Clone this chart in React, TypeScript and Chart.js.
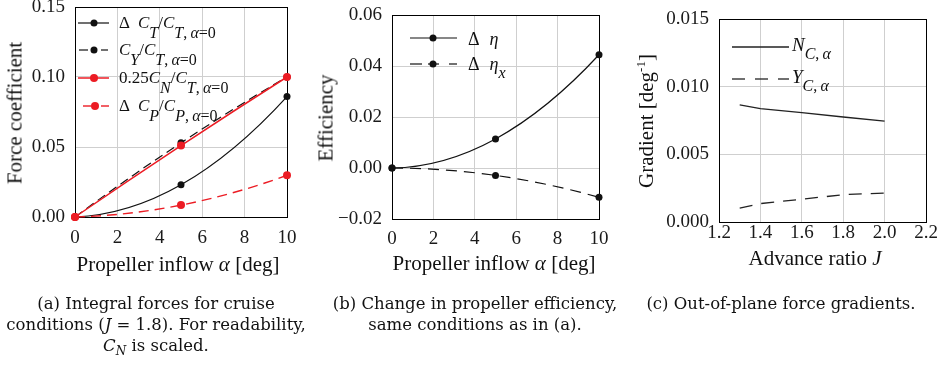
import React, { useEffect, useRef } from "react";
import { Chart, registerables } from "chart.js";

Chart.register(...registerables);

// ---------------- data ----------------
const inflowAlpha = [0, 5, 10];
const deltaCT = [0, 0.023, 0.086];
const cYratio = [0, 0.053, 0.1];
const cNscaled = [0, 0.051, 0.1];
const deltaCP = [0, 0.0085, 0.0298];

const deltaEta = [0, 0.0114, 0.0444];
const deltaEtaX = [0, -0.0029, -0.0115];

const advanceRatio = [1.3, 1.4, 1.6, 1.8, 2.0];
const nCalpha = [0.00865, 0.00838, 0.00808, 0.00776, 0.00746];
const yCalpha = [0.00103, 0.00136, 0.00168, 0.00202, 0.00214];

const xTicksAlpha = [0, 2, 4, 6, 8, 10];
const yTicksA = [0, 0.05, 0.1, 0.15];
const yTicksB = [-0.02, 0, 0.02, 0.04, 0.06];
const xTicksJ = [1.2, 1.4, 1.6, 1.8, 2.0, 2.2];
const yTicksC = [0, 0.005, 0.01, 0.015];

// ---------------- styling ----------------
const RED = "#ec1c24";
const BLACK = "#111111";
const GRID = "#cfcfcf";
const SERIF = "'Liberation Serif', 'Times New Roman', serif";
const CAPTION_FONT = "'DejaVu Serif', serif";

const pts = (xs: number[], ys: number[]) => xs.map((x, i) => ({ x, y: ys[i] }));

const framePlugin = {
  id: "frame",
  beforeDatasetsDraw(chart: any) {
    const { ctx, chartArea } = chart;
    const l = Math.round(chartArea.left) + 0.5;
    const t = Math.round(chartArea.top) + 0.5;
    const w = Math.round(chartArea.right) - Math.round(chartArea.left);
    const h = Math.round(chartArea.bottom) - Math.round(chartArea.top);
    ctx.save();
    ctx.strokeStyle = "#000";
    ctx.lineWidth = 1;
    ctx.strokeRect(l, t, w, h);
    ctx.restore();
  },
};

// smooth quadratic curve through three data points (exact parabola as cubic Bezier segments)
const quadFitPlugin = {
  id: "quadFit",
  beforeDatasetDraw(chart: any, args: any) {
    const ds = chart.data.datasets[args.index];
    if (!ds || !ds.quadFit) return;
    const meta = args.meta;
    const line = meta.dataset;
    const p = meta.data;
    if (!line || !p || p.length !== 3) return;
    const [a, b, c] = p;
    const f01 = (b.y - a.y) / (b.x - a.x);
    const f12 = (c.y - b.y) / (c.x - b.x);
    const f012 = (f12 - f01) / (c.x - a.x);
    const d = (x: number) => f01 + f012 * (2 * x - a.x - b.x);
    const seg = (P: any, Q: any) => {
      const h = (Q.x - P.x) / 3;
      P.cp2x = P.x + h;
      P.cp2y = P.y + d(P.x) * h;
      Q.cp1x = Q.x - h;
      Q.cp1y = Q.y - d(Q.x) * h;
    };
    seg(a, b);
    seg(b, c);
    a.cp1x = a.x;
    a.cp1y = a.y;
    c.cp2x = c.x;
    c.cp2y = c.y;
    line._pointsUpdated = true;
    line._path = undefined;
  },
};

type PanelProps = {
  left: number;
  width: number;
  height: number;
  yWidth: number;
  xHeight: number;
  padTop: number;
  padRight: number;
  datasets: any[];
  xMin: number;
  xMax: number;
  xTicks: number[];
  xDec: number;
  yMin: number;
  yMax: number;
  yTicks: number[];
  yDec: number;
  xPad: number;
  yPad: number;
};

function fmt(v: number, dec: number) {
  const s = Math.abs(v).toFixed(dec);
  return v < -1e-12 ? "\u2212" + s : s;
}

function Panel(p: PanelProps) {
  const ref = useRef<HTMLCanvasElement>(null);
  useEffect(() => {
    const chart = new Chart(ref.current as HTMLCanvasElement, {
      type: "line",
      data: { datasets: p.datasets },
      options: {
        animation: false,
        responsive: false,
        maintainAspectRatio: false,
        layout: { padding: { top: p.padTop, right: p.padRight, left: 0, bottom: 0 } },
        plugins: { legend: { display: false }, tooltip: { enabled: false } },
        elements: { point: { hoverRadius: 0 } },
        scales: {
          x: {
            type: "linear",
            min: p.xMin,
            max: p.xMax,
            afterBuildTicks: (s: any) => {
              s.ticks = p.xTicks.map((v) => ({ value: v }));
            },
            afterFit: (s: any) => {
              s.height = p.xHeight;
              s.paddingLeft = 0;
              s.paddingRight = 0;
            },
            ticks: {
              autoSkip: false,
              maxRotation: 0,
              padding: p.xPad,
              color: "#1a1a1a",
              font: { family: SERIF, size: 19 },
              callback: (v: any) => fmt(Number(v), p.xDec),
            },
            grid: { color: GRID, lineWidth: 1, drawTicks: false },
            border: { display: false },
          },
          y: {
            type: "linear",
            min: p.yMin,
            max: p.yMax,
            afterBuildTicks: (s: any) => {
              s.ticks = p.yTicks.map((v) => ({ value: v }));
            },
            afterFit: (s: any) => {
              s.width = p.yWidth;
              s.paddingTop = 0;
              s.paddingBottom = 0;
            },
            ticks: {
              autoSkip: false,
              padding: p.yPad,
              color: "#1a1a1a",
              font: { family: SERIF, size: 19 },
              callback: (v: any) => fmt(Number(v), p.yDec),
            },
            grid: { color: GRID, lineWidth: 1, drawTicks: false },
            border: { display: false },
          },
        },
      } as any,
      plugins: [framePlugin, quadFitPlugin],
    });
    return () => chart.destroy();
  }, []);
  return (
    <canvas
      ref={ref}
      width={p.width}
      height={p.height}
      style={{ position: "absolute", left: p.left, top: 0, width: p.width, height: p.height }}
    />
  );
}

const lineDs = (data: any[], color: string, width: number, dash: number[], marker: number, quad: boolean) => ({
  data,
  borderColor: color,
  backgroundColor: color,
  borderWidth: width,
  borderDash: dash,
  pointRadius: marker,
  pointBorderWidth: 0,
  pointBackgroundColor: color,
  tension: quad ? 0.4 : 0,
  quadFit: quad,
  fill: false,
  clip: false,
});

// datasets (first in list is drawn on top)
const datasetsA = [
  lineDs(pts(inflowAlpha, deltaCP), RED, 1.4, [10, 6], 4, true),
  lineDs(pts(inflowAlpha, cNscaled), RED, 1.5, [], 4, true),
  lineDs(pts(inflowAlpha, cYratio), BLACK, 1.2, [9, 5], 3.5, true),
  lineDs(pts(inflowAlpha, deltaCT), BLACK, 1.2, [], 3.5, true),
];
const datasetsB = [
  lineDs(pts(inflowAlpha, deltaEta), BLACK, 1.2, [], 3.5, true),
  lineDs(pts(inflowAlpha, deltaEtaX), BLACK, 1.2, [11, 7], 3.5, true),
];
const datasetsC = [
  lineDs(pts(advanceRatio, nCalpha), "#222", 1.3, [], 0, false),
  lineDs(pts(advanceRatio, yCalpha), "#222", 1.3, [13, 9], 0, false),
];

// ---------------- text helpers ----------------
const abs = (left: number, top: number, extra: any = {}) => ({
  position: "absolute" as const,
  left,
  top,
  whiteSpace: "nowrap" as const,
  ...extra,
});

function Title({ cx, cy, rotate, children }: any) {
  return (
    <div
      style={abs(cx, cy, {
        transform: `translate(-50%,-50%)${rotate ? " rotate(-90deg)" : ""}`,
        fontFamily: SERIF,
        fontSize: 21,
        lineHeight: 1,
        color: "#111",
      })}
    >
      {children}
    </div>
  );
}

const Sub = ({ children, drop, size }: any) => (
  <span style={{ fontSize: size, position: "relative", top: drop }}>{children}</span>
);
const I = ({ children }: any) => <i>{children}</i>;

function LegendText({ x, baseline, size, children }: any) {
  return (
    <div
      style={abs(x, baseline - 0.8375 * size, {
        fontFamily: SERIF,
        fontSize: size,
        lineHeight: 1,
        color: "#111",
      })}
    >
      {children}
    </div>
  );
}

function Sample({ x1, x2, y, color, width, dash, dot, r, pieces }: any) {
  return (
    <g>
      {pieces ? (
        pieces.map((pc: number[], i: number) => (
          <line key={i} x1={pc[0]} y1={y} x2={pc[1]} y2={y} stroke={color} strokeWidth={width} />
        ))
      ) : (
        <line x1={x1} y1={y} x2={x2} y2={y} stroke={color} strokeWidth={width} strokeDasharray={dash || undefined} />
      )}
      {dot !== undefined && <circle cx={dot} cy={y} r={r} fill={color} />}
    </g>
  );
}

const captionStyle = (cx: number) =>
  abs(cx - 180, 293, {
    width: 360,
    textAlign: "center",
    fontFamily: CAPTION_FONT,
    fontSize: 16.5,
    lineHeight: "21px",
    color: "#111",
    whiteSpace: "normal",
  });

export default function App() {
  const subA = { drop: 10, size: 16 };
  return (
    <div
      style={{
        position: "absolute",
        left: 0,
        top: 0,
        width: 944,
        height: 369,
        background: "#fff",
        overflow: "hidden",
        fontFamily: SERIF,
      }}
    >
      <Panel
        left={0}
        width={314}
        height={285}
        yWidth={75}
        xHeight={68}
        padTop={7}
        padRight={27}
        datasets={datasetsA}
        xMin={0}
        xMax={10}
        xTicks={xTicksAlpha}
        xDec={0}
        yMin={0}
        yMax={0.15}
        yTicks={yTicksA}
        yDec={2}
        xPad={10}
        yPad={10}
      />
      <Panel
        left={314}
        width={314}
        height={285}
        yWidth={78}
        xHeight={66}
        padTop={15}
        padRight={29}
        datasets={datasetsB}
        xMin={0}
        xMax={10}
        xTicks={xTicksAlpha}
        xDec={0}
        yMin={-0.02}
        yMax={0.06}
        yTicks={yTicksB}
        yDec={2}
        xPad={9}
        yPad={10}
      />
      <Panel
        left={628}
        width={316}
        height={285}
        yWidth={91}
        xHeight={63}
        padTop={19}
        padRight={18}
        datasets={datasetsC}
        xMin={1.2}
        xMax={2.2}
        xTicks={xTicksJ}
        xDec={1}
        yMin={0}
        yMax={0.015}
        yTicks={yTicksC}
        yDec={3}
        xPad={0}
        yPad={10}
      />

      {/* axis titles */}
      <Title cx={178} cy={264}>
        Propeller inflow <i>α</i> [deg]
      </Title>
      <Title cx={494} cy={263}>
        Propeller inflow <i>α</i> [deg]
      </Title>
      <Title cx={815} cy={258}>
        Advance ratio <i>J</i>
      </Title>
      <Title cx={15} cy={113} rotate>
        Force coefficient
      </Title>
      <Title cx={326} cy={118} rotate>
        Efficiency
      </Title>
      <Title cx={646} cy={121} rotate>
        Gradient [deg<sup style={{ fontSize: 13, verticalAlign: 0, position: "relative", top: -8 }}>-1</sup>]
      </Title>

      {/* legend samples */}
      <svg width={944} height={369} style={{ position: "absolute", left: 0, top: 0, pointerEvents: "none" }}>
        <Sample x1={78} x2={109} y={23} color={BLACK} width={1.2} dot={94} r={3.5} />
        <Sample pieces={[[79, 88], [101, 108]]} y={50} color={BLACK} width={1.2} dot={94} r={3.5} />
        <Sample x1={78} x2={109} y={78} color={RED} width={1.5} dot={94} r={4} />
        <Sample pieces={[[83, 91], [101, 109]]} y={106} color={RED} width={1.4} dot={95} r={4} />

        <Sample x1={410} x2={457} y={38} color={BLACK} width={1.2} dot={433} r={3.5} />
        <Sample pieces={[[410, 422], [428, 439], [449, 457]]} y={64} color={BLACK} width={1.2} dot={433} r={3.5} />

        <Sample x1={732} x2={789} y={47} color="#222" width={1.3} />
        <Sample pieces={[[732, 745], [755, 768], [778, 789]]} y={79} color="#222" width={1.3} />
      </svg>

      {/* legend texts panel a */}
      <LegendText x={119} baseline={28} size={17}>
        Δ<span style={{ marginLeft: 8 }} />
        <I>C</I>
        <Sub {...subA}>
          <I>T</I>
        </Sub>
        /<I>C</I>
        <Sub {...subA}>
          <I>T</I>,&thinsp;<I>α</I>=0
        </Sub>
      </LegendText>
      <LegendText x={119} baseline={55} size={17}>
        <I>C</I>
        <Sub {...subA}>
          <I>Y</I>
        </Sub>
        /<I>C</I>
        <Sub {...subA}>
          <I>T</I>,&thinsp;<I>α</I>=0
        </Sub>
      </LegendText>
      <LegendText x={119} baseline={83} size={17}>
        0.25<I>C</I>
        <Sub {...subA}>
          <I>N</I>
        </Sub>
        /<I>C</I>
        <Sub {...subA}>
          <I>T</I>,&thinsp;<I>α</I>=0
        </Sub>
      </LegendText>
      <LegendText x={119} baseline={111} size={17}>
        Δ<span style={{ marginLeft: 8 }} />
        <I>C</I>
        <Sub {...subA}>
          <I>P</I>
        </Sub>
        /<I>C</I>
        <Sub {...subA}>
          <I>P</I>,&thinsp;<I>α</I>=0
        </Sub>
      </LegendText>

      {/* legend texts panel b */}
      <LegendText x={468} baseline={45} size={18}>
        Δ<span style={{ marginLeft: 10 }} />
        <I>η</I>
      </LegendText>
      <LegendText x={468} baseline={70} size={18}>
        Δ<span style={{ marginLeft: 10 }} />
        <I>η</I>
        <Sub drop={8} size={16}>
          <I>x</I>
        </Sub>
      </LegendText>

      {/* legend texts panel c */}
      <LegendText x={792} baseline={51} size={19}>
        <I>N</I>
        <Sub drop={8} size={16}>
          <I>C</I>,&thinsp;<I>α</I>
        </Sub>
      </LegendText>
      <LegendText x={792} baseline={83} size={19}>
        <I>Y</I>
        <Sub drop={8} size={16}>
          <I>C</I>,&thinsp;<I>α</I>
        </Sub>
      </LegendText>

      {/* captions */}
      <div style={captionStyle(156)}>
        (a) Integral forces for cruise
        <br />
        conditions (<i>J</i> = 1.8). For readability,
        <br />
        <i>C</i>
        <sub style={{ fontSize: 12, verticalAlign: 0, position: "relative", top: 4 }}>
          <i>N</i>
        </sub>{" "}
        is scaled.
      </div>
      <div style={captionStyle(475)}>
        (b) Change in propeller efficiency,
        <br />
        same conditions as in (a).
      </div>
      <div style={captionStyle(781)}>(c) Out-of-plane force gradients.</div>
    </div>
  );
}
